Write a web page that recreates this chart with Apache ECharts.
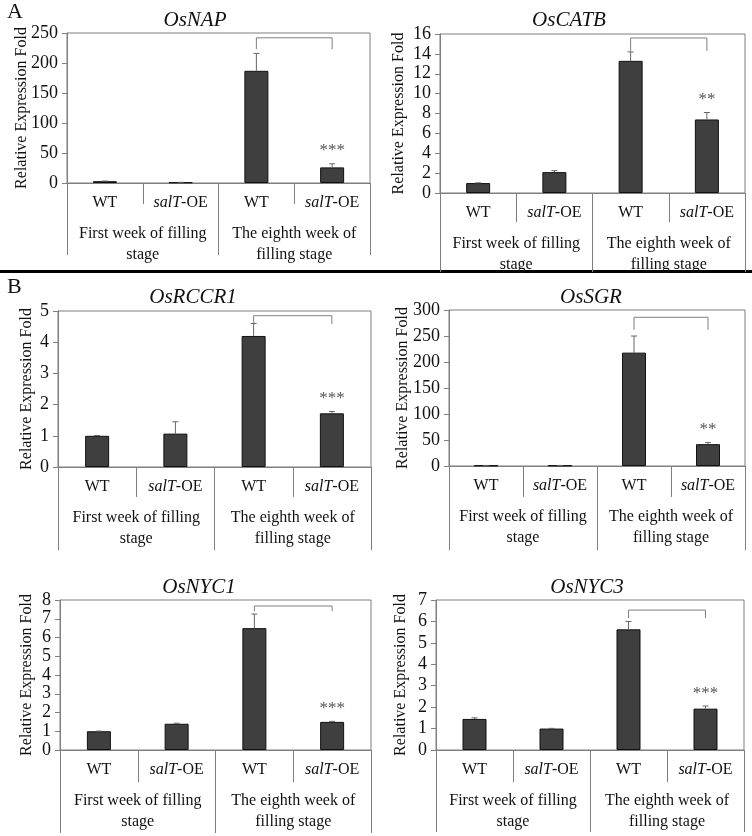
<!DOCTYPE html>
<html>
<head>
<meta charset="utf-8">
<script src="https://cdn.jsdelivr.net/npm/echarts@6/dist/echarts.min.js"></script>
<style>
  html, body { margin: 0; padding: 0; background: #fff; }
  #chart { width: 752px; height: 836px; }
</style>
</head>
<body>
<div id="chart"></div>
<script>
const myChart = echarts.init(document.getElementById('chart'));

// 数据
const categories = ['WT', 'salT-OE', 'WT', 'salT-OE'];
const groups = ['First week of filling\nstage', 'The eighth week of\nfilling stage'];
const genes = ['OsNAP', 'OsCATB', 'OsRCCR1', 'OsSGR', 'OsNYC1', 'OsNYC3'];
const means = [
  [3, 1, 187, 26],
  [1, 2.1, 13.3, 7.4],
  [1, 1.07, 4.2, 1.72],
  [1, 1, 218, 42],
  [1, 1.4, 6.5, 1.5],
  [1.45, 1, 5.63, 1.93]
];
const errors = [
  [0.3, 0.1, 29, 6],
  [0.02, 0.15, 0.9, 0.7],
  [0.01, 0.38, 0.4, 0.06],
  [0.1, 0.1, 32, 3],
  [0.01, 0.03, 0.75, 0.03],
  [0.05, 0.01, 0.37, 0.12]
];
const yMax = [250, 16, 5, 300, 8, 7];
const yStep = [50, 2, 1, 50, 1, 1];
const stars = ['***', '**', '***', '**', '***', '***'];
const bracketTop = [242, 15.6, 4.85, 286, 7.68, 6.53];
const bracketDrop = [223, 14.3, 4.58, 262, 7.4, 6.16];

// 布局 (像素)
const panels = [
  { left: 67, right: 382, top: 33, bottom: 653, shortTick: 21, longTick: 72, titleX: 190, titleTop: 5, nameGap: 37 },
  { left: 440, right: 7, top: 34, bottom: 643, shortTick: 29, longTick: 79, titleX: 564, titleTop: 5, nameGap: 33 },
  { left: 58, right: 381, top: 311, bottom: 369, shortTick: 30, longTick: 83, titleX: 188, titleTop: 282, nameGap: 23 },
  { left: 449, right: 7, top: 310, bottom: 370, shortTick: 31, longTick: 84, titleX: 586, titleTop: 282, nameGap: 38 },
  { left: 60, right: 381, top: 600, bottom: 86, shortTick: 32, longTick: 83, titleX: 194, titleTop: 572, nameGap: 25 },
  { left: 436, right: 8, top: 600, bottom: 86, shortTick: 32, longTick: 82, titleX: 582, titleTop: 572, nameGap: 27 }
];

const FONT = 'Liberation Serif';
const GRAY = '#7f7f7f';

const option = {
  backgroundColor: '#fff',
  animation: false,
  title: [],
  grid: [],
  xAxis: [],
  yAxis: [],
  series: [],
  graphic: [
    { type: 'text', left: 7, top: 1, style: { text: 'A', font: '22px "Liberation Serif"', fill: '#111' } },
    { type: 'text', left: 7, top: 276, style: { text: 'B', font: '22px "Liberation Serif"', fill: '#111' } },
    { type: 'rect', shape: { x: 0, y: 270, width: 752, height: 3 }, style: { fill: '#000' } }
  ]
};

genes.forEach(function (gene, i) {
  const p = panels[i];
  option.title.push({
    text: gene,
    left: p.titleX,
    top: p.titleTop,
    textAlign: 'center',
    textStyle: { fontFamily: FONT, fontStyle: 'italic', fontWeight: 'normal', fontSize: 21, color: '#111' }
  });
  option.grid.push({
    left: p.left, right: p.right, top: p.top, bottom: p.bottom,
    show: true, borderColor: GRAY, borderWidth: 1
  });
  // 样品类目轴
  option.xAxis.push({
    type: 'category',
    gridIndex: i,
    data: categories,
    position: 'bottom',
    axisLine: { onZero: false, lineStyle: { color: GRAY } },
    axisTick: { show: true, length: p.shortTick, lineStyle: { color: GRAY } },
    axisLabel: {
      interval: 0, margin: 12, fontFamily: FONT, fontSize: 16, color: '#111',
      formatter: function (v) { return v === 'salT-OE' ? '{i|salT}-OE' : v; },
      rich: { i: { fontFamily: FONT, fontStyle: 'italic', fontSize: 16, color: '#111' } }
    }
  });
  // 时期分组轴
  option.xAxis.push({
    type: 'category',
    gridIndex: i,
    data: groups,
    position: 'bottom',
    axisLine: { show: false, onZero: false },
    axisTick: { show: true, length: p.longTick, lineStyle: { color: GRAY } },
    axisLabel: {
      interval: 0, margin: 40, fontFamily: FONT, fontSize: 16, lineHeight: 21, color: '#111'
    }
  });
  option.yAxis.push({
    type: 'value',
    gridIndex: i,
    min: 0,
    max: yMax[i],
    interval: yStep[i],
    name: 'Relative Expression Fold',
    nameLocation: 'middle',
    nameGap: p.nameGap,
    nameMoveOverlap: false,
    nameTextStyle: { fontFamily: FONT, fontSize: 16, color: '#111' },
    axisLine: { show: true, lineStyle: { color: GRAY } },
    axisTick: { show: true, length: 5, lineStyle: { color: GRAY } },
    splitLine: { show: false },
    axisLabel: {
      margin: 9, fontFamily: FONT, fontSize: 18, color: '#111',
      showMinLabel: true, showMaxLabel: true, hideOverlap: false
    }
  });
  option.series.push({
    type: 'bar',
    xAxisIndex: i * 2,
    yAxisIndex: i,
    barWidth: 24,
    data: means[i],
    itemStyle: { color: '#3f3f3f', borderColor: '#111', borderWidth: 1 }
  });
  // 误差线与显著性
  option.series.push({
    type: 'custom',
    xAxisIndex: i * 2,
    yAxisIndex: i,
    encode: { x: 0, y: 1 },
    data: means[i].map(function (m, k) { return [k, m, errors[i][k]]; }),
    z: 5,
    renderItem: function (params, api) {
      const x = api.value(0), m = api.value(1), e = api.value(2);
      const base = api.coord([x, m]);
      const top = api.coord([x, m + e]);
      const children = [
        { type: 'line', shape: { x1: base[0], y1: base[1], x2: top[0], y2: top[1] }, style: { stroke: '#666', lineWidth: 1 } },
        { type: 'line', shape: { x1: top[0] - 3, y1: top[1], x2: top[0] + 3, y2: top[1] }, style: { stroke: '#666', lineWidth: 1 } }
      ];
      if (params.dataIndex === 3) {
        children.push({
          type: 'text',
          style: {
            text: stars[i], x: top[0], y: top[1] - 13,
            align: 'center', verticalAlign: 'middle',
            font: '17px "Liberation Serif"', fill: '#555'
          }
        });
      }
      return { type: 'group', children: children };
    }
  });
  // 比较括号
  option.series.push({
    type: 'line',
    xAxisIndex: i * 2,
    yAxisIndex: i,
    symbol: 'none',
    silent: true,
    lineStyle: { color: GRAY, width: 1 },
    data: [[2, bracketDrop[i]], [2, bracketTop[i]], [3, bracketTop[i]], [3, bracketDrop[i]]]
  });
});

myChart.setOption(option);
</script>
</body>
</html>
